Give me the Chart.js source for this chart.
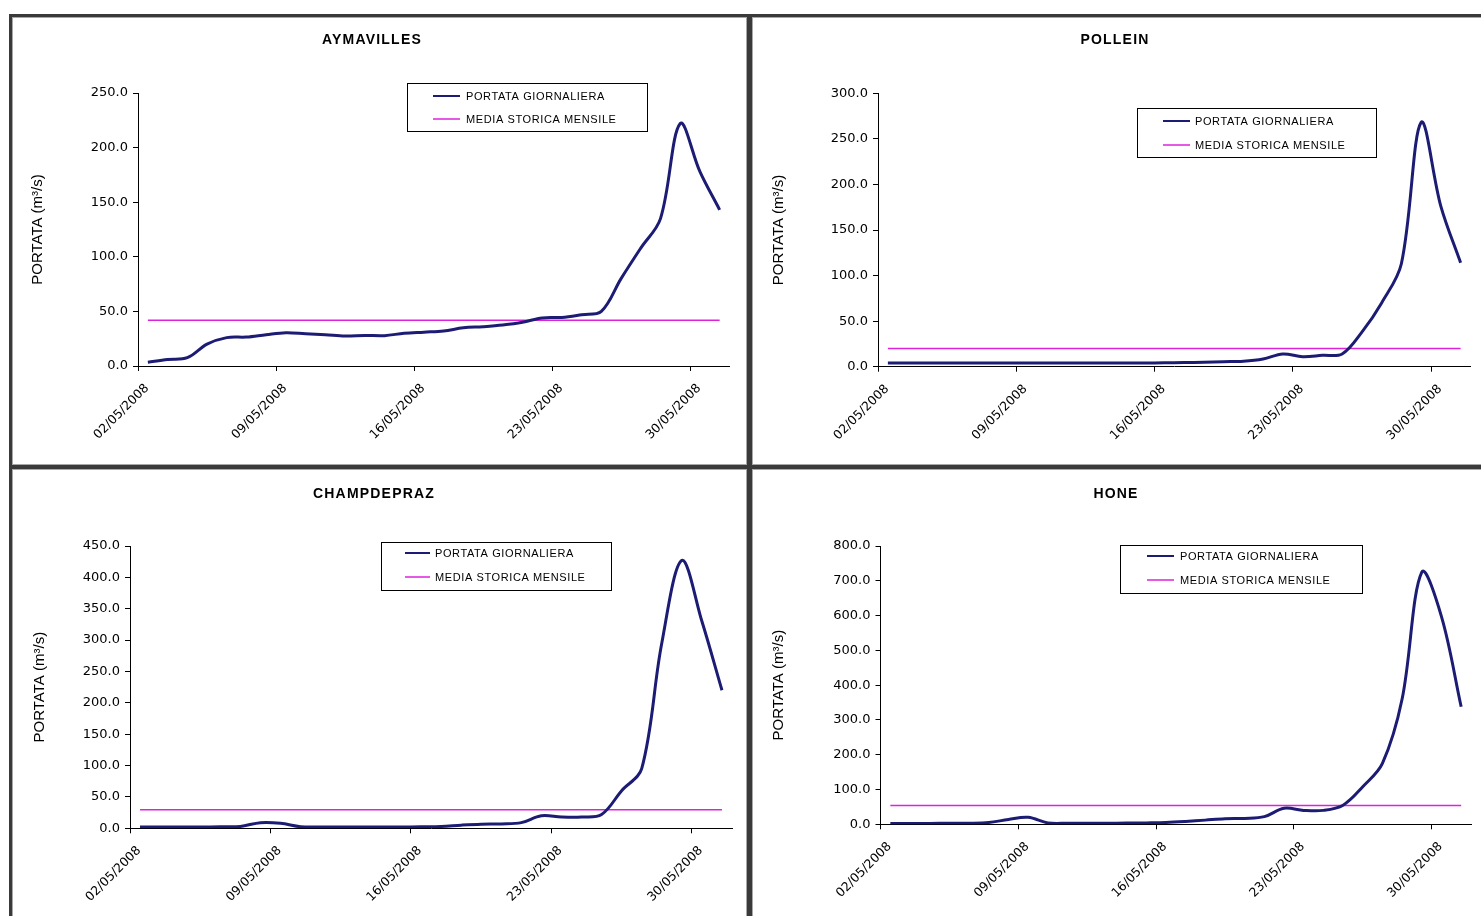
<!DOCTYPE html>
<html><head><meta charset="utf-8">
<script src="https://cdn.jsdelivr.net/npm/chart.js@4.4.1/dist/chart.umd.min.js"></script>
<style>
html,body{margin:0;padding:0;background:#fff;width:1481px;height:916px;overflow:hidden;position:relative}
.panel{position:absolute;box-sizing:border-box;border:3px solid #3a3a3a;background:#fff;box-shadow:inset 0 0 0 1px #a8a8a8}
canvas{position:absolute;left:0;top:0}
</style></head><body>
<div class="panel" style="left:9px;top:14px;width:741px;height:454px"><canvas id="c1"></canvas></div>
<div class="panel" style="left:749px;top:14px;width:760px;height:454px"><canvas id="c2"></canvas></div>
<div class="panel" style="left:9px;top:466px;width:741px;height:470px"><canvas id="c3"></canvas></div>
<div class="panel" style="left:749px;top:466px;width:760px;height:470px"><canvas id="c4"></canvas></div>
<script>
// ---- DATA ----
const dates = ['02/05/2008','03/05/2008','04/05/2008','05/05/2008','06/05/2008','07/05/2008','08/05/2008','09/05/2008','10/05/2008','11/05/2008','12/05/2008','13/05/2008','14/05/2008','15/05/2008','16/05/2008','17/05/2008','18/05/2008','19/05/2008','20/05/2008','21/05/2008','22/05/2008','23/05/2008','24/05/2008','25/05/2008','26/05/2008','27/05/2008','28/05/2008','29/05/2008','30/05/2008','31/05/2008'];
const tickLabels = ['02/05/2008','09/05/2008','16/05/2008','23/05/2008','30/05/2008'];
const seriesNames = ['PORTATA GIORNALIERA','MEDIA STORICA MENSILE'];
const stations = ['AYMAVILLES','POLLEIN','CHAMPDEPRAZ','HONE'];
const aymavilles = [3.5,6,7.6,20,26,26.5,28.7,30.5,29.6,28.7,27.5,28,27.8,30,31,32,35,36,37.5,40,44,44.5,47,50,80,108,135,222,178,143];
const pollein = [4,4,4,4,4,4,4,4,4,4,4,4,4,4,4.2,4.5,5,5.5,6,8.5,14,11,12.5,14,38,70,113,268,176,114];
const champdepraz = [2,2,2,2,2.5,3,9,8,2.5,2,2,2,2,2,2.5,3,5,6.5,7,9,20,18,18,22,60,95,295,427,330,220];
const hone = [2.5,2.5,2.5,3,3,5,14,20,4,3,3,3,3.5,4,5,8,12,16,17,22,46,40,40,55,108,175,360,725,597,338];
const mediaStorica = [42, 20, 29.5, 54];
const yMaxes = [250, 300, 450, 800];
const ySteps = [50, 50, 50, 100];
const yTitle = 'PORTATA (m\u00B3/s)';

// ---- LAYOUT (page coordinates) ----
const panels = [
  {x:12, y:17, w:735, h:448},
  {x:752, y:17, w:754, h:448},
  {x:12, y:469, w:735, h:464},
  {x:752, y:469, w:754, h:464}
];
const layouts = [
  {area:{l:138,r:729.5,t:93,b:366}, yTitleX:38, tx:372, ty:40,
   lg:{x:407,y:83,w:240,h:48,r1:96,r2:119,s1:433,s2:460,tx:466}},
  {area:{l:878,r:1470.5,t:93.3,b:366.7}, yTitleX:779, tx:1115, ty:40,
   lg:{x:1137,y:108,w:239,h:49,r1:121,r2:145,s1:1163,s2:1190,tx:1195}},
  {area:{l:130,r:732,t:546,b:828.3}, yTitleX:40, tx:374, ty:494,
   lg:{x:381,y:542,w:230,h:48,r1:553,r2:577,s1:405,s2:430,tx:435}},
  {area:{l:880.5,r:1471,t:546,b:824.3}, yTitleX:779, tx:1116, ty:494,
   lg:{x:1120,y:545,w:242,h:48,r1:556,r2:580,s1:1147,s2:1174,tx:1180}}
];

Chart.defaults.font.family = "'Liberation Sans', Arial, sans-serif";
Chart.defaults.color = '#000';

const decor = {
  id: 'decor',
  afterDraw(chart, args, o) {
    const ctx = chart.ctx;
    ctx.save();
    ctx.font = "bold 14px 'Liberation Sans', Arial, sans-serif";
    ctx.letterSpacing = '1.2px';
    ctx.fillStyle = '#000';
    ctx.textAlign = 'center';
    ctx.textBaseline = 'middle';
    ctx.fillText(o.title, o.tx, o.ty);
    const g = o.lg;
    ctx.lineWidth = 1;
    ctx.strokeStyle = '#000';
    ctx.fillStyle = '#fff';
    ctx.fillRect(g.x, g.y, g.w, g.h);
    ctx.strokeRect(Math.round(g.x)+0.5, Math.round(g.y)+0.5, g.w, g.h);
    ctx.font = "11px 'Liberation Sans', Arial, sans-serif";
    ctx.letterSpacing = '0.6px';
    ctx.textAlign = 'left';
    const rows = [g.r1, g.r2];
    chart.data.datasets.forEach((ds, i) => {
      ctx.strokeStyle = ds.borderColor;
      ctx.lineWidth = i === 0 ? 2 : 1.5;
      ctx.beginPath();
      ctx.moveTo(g.s1, rows[i]);
      ctx.lineTo(g.s2, rows[i]);
      ctx.stroke();
      ctx.fillStyle = '#000';
      ctx.fillText(ds.label, g.tx, rows[i] + 0.5);
    });
    ctx.restore();
  }
};

function makeChart(idx, values) {
  const P = panels[idx], L = layouts[idx];
  const cv = document.getElementById('c' + (idx + 1));
  cv.width = P.w; cv.height = P.h;
  cv.style.width = P.w + 'px'; cv.style.height = P.h + 'px';
  const a = {l:L.area.l-P.x, r:L.area.r-P.x, t:L.area.t-P.y, b:L.area.b-P.y};
  const tickFont = {family:"'DejaVu Sans', sans-serif", size:12.5};
  new Chart(cv, {
    type: 'line',
    data: {datasets: [
      {label: seriesNames[0], data: values.map((v, i) => ({x: i + 0.5, y: v})),
       borderColor: '#1c1c74', borderWidth: 3, tension: 0.35, pointRadius: 0, fill: false},
      {label: seriesNames[1], data: [{x: 0.5, y: mediaStorica[idx]}, {x: dates.length - 0.5, y: mediaStorica[idx]}],
       borderColor: '#dd22dd', borderWidth: 1.5, pointRadius: 0, fill: false}
    ]},
    options: {
      responsive: false, animation: false, devicePixelRatio: 1,
      layout: {padding: {left: 0, top: a.t, right: P.w - a.r, bottom: 0}},
      plugins: {
        legend: {display: false}, title: {display: false}, tooltip: {enabled: false},
        decor: {title: stations[idx], tx: L.tx - P.x, ty: L.ty - P.y,
          lg: {x: L.lg.x - P.x, y: L.lg.y - P.y, w: L.lg.w, h: L.lg.h, r1: L.lg.r1 - P.y, r2: L.lg.r2 - P.y,
               s1: L.lg.s1 - P.x, s2: L.lg.s2 - P.x, tx: L.lg.tx - P.x}}
      },
      scales: {
        x: {
          type: 'linear', min: 0, max: dates.length,
          afterBuildTicks: s => { s.ticks = tickLabels.map(t => ({value: dates.indexOf(t)})); },
          afterFit: s => { s.height = P.h - a.b; },
          ticks: {callback: v => dates[v], autoSkip: false, minRotation: 45, maxRotation: 45,
                  font: tickFont, color: '#000', padding: 10, labelOffset: 9},
          grid: {drawOnChartArea: false, drawTicks: true, tickLength: 5, color: '#000'},
          border: {display: true, color: '#000', width: 1}
        },
        y: {
          min: 0, max: yMaxes[idx],
          afterFit: s => { s.width = a.l; },
          ticks: {stepSize: ySteps[idx], callback: v => Number(v).toFixed(1),
                  font: {family:"'DejaVu Sans', sans-serif", size:13}, color: '#000', padding: 5},
          grid: {drawOnChartArea: false, drawTicks: true, tickLength: 5, color: '#000'},
          border: {display: true, color: '#000', width: 1},
          title: {display: true, text: yTitle, color: '#000',
                  font: {family: "'Liberation Sans', Arial, sans-serif", size: 15},
                  padding: {top: (L.yTitleX - P.x) - 9, bottom: 0}}
        }
      }
    },
    plugins: [decor]
  });
}
[aymavilles, pollein, champdepraz, hone].forEach((v, i) => makeChart(i, v));
</script>
</body></html>
